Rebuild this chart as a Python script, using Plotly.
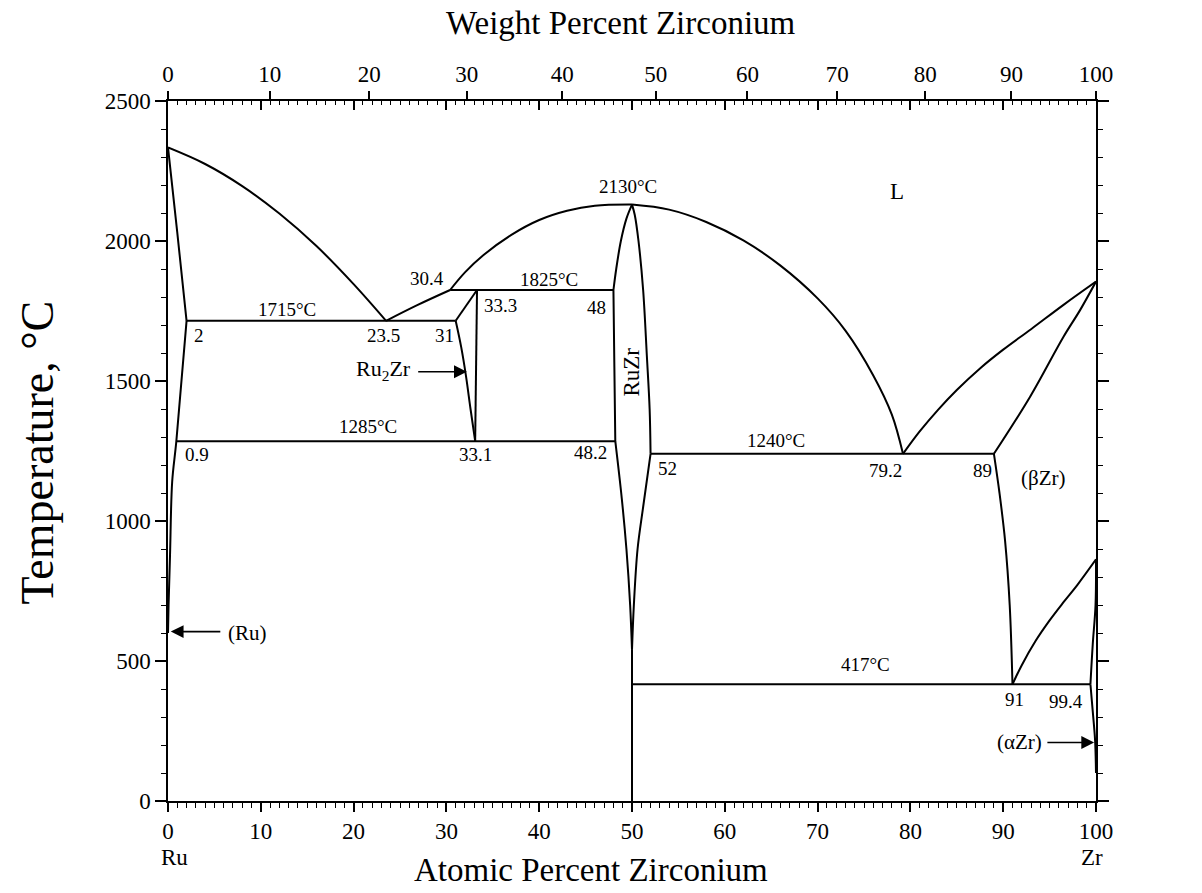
import plotly.graph_objects as go

# ---------------- phase boundaries (x = at.% Zr, y = temperature in degC) ----------------
ru_liquidus_x = [0, 4, 8, 12, 16, 20, 23.5]
ru_liquidus_t = [2334, 2275, 2196, 2098, 1982, 1846, 1715]

ru_solidus_x = [0, 1.0, 2.0]
ru_solidus_t = [2334, 2030, 1715]

ru_solvus_x = [2.0, 0.9, 0.45, 0.22, 0.06, 0]
ru_solvus_t = [1715, 1285, 1140, 880, 700, 600]

eut_liq_x = [23.5, 26.8, 30.4]
eut_liq_t = [1715, 1770, 1825]

ruzr_liq_left_x = [30.4, 32, 34, 37, 40, 43, 46, 50]
ruzr_liq_left_t = [1825, 1888, 1950, 2022, 2075, 2108, 2126, 2130]

ruzr_liq_right_x = [50, 54, 58, 62, 66, 70, 73, 76, 78, 79.2]
ruzr_liq_right_t = [2130, 2112, 2068, 2002, 1912, 1795, 1680, 1520, 1380, 1240]

ru2zr_peri_x = [31, 33.3]
ru2zr_peri_t = [1715, 1825]

ru2zr_right_x = [33.3, 33.1]
ru2zr_right_t = [1825, 1285]

ru2zr_left_x = [31, 31.6, 32.1, 32.6, 33.1]
ru2zr_left_t = [1715, 1620, 1520, 1400, 1285]

ruzr_left_hi_x = [50, 49.4, 48.8, 48.3, 48.0]
ruzr_left_hi_t = [2130, 2080, 2000, 1900, 1825]
ruzr_left_mid_x = [48.0, 48.1, 48.2]
ruzr_left_mid_t = [1825, 1550, 1285]
ruzr_left_lo_x = [48.2, 48.9, 49.4, 49.8, 50]
ruzr_left_lo_t = [1285, 1080, 900, 700, 540]

ruzr_right_hi_x = [50, 50.3, 50.7, 51.2, 51.6, 51.9, 52]
ruzr_right_hi_t = [2130, 2093, 2000, 1825, 1590, 1400, 1240]
ruzr_right_lo_x = [52, 51.2, 50.6, 50.2, 50]
ruzr_right_lo_t = [1240, 1050, 900, 700, 540]

ruzr_stem_x = [50, 50]
ruzr_stem_t = [540, 0]

zr_liquidus_x = [79.2, 81, 83, 85, 87.5, 90, 93, 96.5, 100]
zr_liquidus_t = [1240, 1320, 1398, 1468, 1545, 1612, 1685, 1772, 1855]

zr_solidus_x = [89, 92.9, 96.5, 98.3, 100]
zr_solidus_t = [1240, 1444, 1658, 1754, 1855]

bzr_solvus_x = [89, 89.6, 90.2, 90.7, 91]
bzr_solvus_t = [1240, 1100, 930, 700, 417]

bzr_transus_x = [91, 92, 93.5, 95, 96.5, 98, 100]
bzr_transus_t = [417, 485, 572, 645, 710, 772, 863]

azr_transus_x = [100, 99.95, 99.65, 99.4]
azr_transus_t = [863, 700, 560, 417]

azr_solvus_x = [99.4, 99.65, 99.9, 100]
azr_solvus_t = [417, 320, 218, 100]

# invariant (horizontal) reactions: (temperature, x_start, x_end)
iso_t = [1715, 1825, 1285, 1240, 417]
iso_x0 = [2.0, 30.4, 0.9, 52, 50]
iso_x1 = [31, 48, 48.2, 89, 99.4]

# axis ticks
temp_ticks = [0, 500, 1000, 1500, 2000, 2500]
at_ticks = [0, 10, 20, 30, 40, 50, 60, 70, 80, 90, 100]
wt_ticks = [0, 10, 20, 30, 40, 50, 60, 70, 80, 90, 100]

M_RU, M_ZR = 101.07, 91.224


def wt_to_at(w):
    if w >= 100:
        return 100.0
    nz = w / M_ZR
    nr = (100 - w) / M_RU
    return 100 * nz / (nz + nr)


FONT = "Liberation Serif"
LW = 2

curves = [
    (ru_liquidus_x, ru_liquidus_t, "spline"),
    (ru_solidus_x, ru_solidus_t, "spline"),
    (ru_solvus_x, ru_solvus_t, "spline"),
    (eut_liq_x, eut_liq_t, "spline"),
    (ruzr_liq_left_x, ruzr_liq_left_t, "spline"),
    (ruzr_liq_right_x, ruzr_liq_right_t, "spline"),
    (ru2zr_peri_x, ru2zr_peri_t, "linear"),
    (ru2zr_right_x, ru2zr_right_t, "linear"),
    (ru2zr_left_x, ru2zr_left_t, "spline"),
    (ruzr_left_hi_x, ruzr_left_hi_t, "spline"),
    (ruzr_left_mid_x, ruzr_left_mid_t, "spline"),
    (ruzr_left_lo_x, ruzr_left_lo_t, "spline"),
    (ruzr_right_hi_x, ruzr_right_hi_t, "spline"),
    (ruzr_right_lo_x, ruzr_right_lo_t, "spline"),
    (ruzr_stem_x, ruzr_stem_t, "linear"),
    (zr_liquidus_x, zr_liquidus_t, "spline"),
    (zr_solidus_x, zr_solidus_t, "spline"),
    (bzr_solvus_x, bzr_solvus_t, "spline"),
    (bzr_transus_x, bzr_transus_t, "spline"),
    (azr_transus_x, azr_transus_t, "spline"),
    (azr_solvus_x, azr_solvus_t, "spline"),
]

fig = go.Figure()
for xs, ts, shape in curves:
    fig.add_trace(go.Scatter(x=xs, y=ts, mode="lines",
                             line=dict(color="black", width=LW, shape=shape),
                             hoverinfo="skip", showlegend=False, cliponaxis=False))

for t, x0, x1 in zip(iso_t, iso_x0, iso_x1):
    fig.add_trace(go.Scatter(x=[x0, x1], y=[t, t], mode="lines",
                             line=dict(color="black", width=LW),
                             hoverinfo="skip", showlegend=False))

# placeholders so the two top axes get drawn
for ax in ("x2", "x3"):
    fig.add_trace(go.Scatter(x=[0], y=[0], xaxis=ax, mode="markers",
                             marker=dict(opacity=0), hoverinfo="skip", showlegend=False))

# ---------------- labels ----------------
LBL = 19
labels = [
    ("L", 78.6, 2178, 23, "center"),
    ("2130°C", 49.6, 2193, LBL, "center"),
    ("30.4", 27.9, 1866, LBL, "center"),
    ("1825°C", 41.1, 1862, LBL, "center"),
    ("33.3", 35.8, 1771, LBL, "center"),
    ("48", 46.2, 1764, LBL, "center"),
    ("1715°C", 12.8, 1757, LBL, "center"),
    ("2", 3.3, 1664, LBL, "center"),
    ("23.5", 23.2, 1664, LBL, "center"),
    ("31", 29.8, 1664, LBL, "center"),
    ("1285°C", 21.5, 1336, LBL, "center"),
    ("0.9", 3.1, 1239, LBL, "center"),
    ("33.1", 33.1, 1239, LBL, "center"),
    ("48.2", 45.5, 1243, LBL, "center"),
    ("52", 53.8, 1186, LBL, "center"),
    ("1240°C", 65.5, 1289, LBL, "center"),
    ("79.2", 77.3, 1182, LBL, "center"),
    ("89", 87.8, 1182, LBL, "center"),
    ("(βZr)", 94.3, 1154, 21, "center"),
    ("417°C", 75.2, 486, LBL, "center"),
    ("91", 91.2, 361, LBL, "center"),
    ("99.4", 96.8, 357, LBL, "center"),
    ("Ru<sub>2</sub>Zr", 26.4, 1540, 22, "right"),
    ("(αZr)", 94.4, 211, 21, "right"),
    ("(Ru)", 6.2, 599, 21, "left"),
    ("<b>2334°C</b>", -1.9, 2334, 22, "right"),
    ("<b>1855°C</b>", 101.9, 1850, 22, "left"),
    ("<b>863°C</b>", 101.8, 840, 19, "left"),
]
for text, x, y, size, anchor in labels:
    fig.add_annotation(x=x, y=y, text=text, showarrow=False, xanchor=anchor,
                       yanchor="middle", font=dict(family=FONT, size=size, color="black"))

fig.add_annotation(x=50, y=1530, text="RuZr", textangle=-90, showarrow=False,
                   xanchor="center", yanchor="middle",
                   font=dict(family=FONT, size=23, color="black"))

# arrows pointing at narrow single-phase fields: (tip x, tip y, tail x, tail y)
arrows = [(32.2, 1533, 26.8, 1533), (0.3, 605, 5.8, 605), (99.8, 209, 94.6, 209)]
for xt, yt, xs, ys in arrows:
    fig.add_annotation(x=xt, y=yt, ax=xs, ay=ys, axref="x", ayref="y", text="",
                       showarrow=True, arrowhead=2, arrowsize=1.6, arrowwidth=1.6,
                       arrowcolor="black")

# element names under the end ticks
for text, x in (("Ru", 0.75), ("Zr", 99.6)):
    fig.add_annotation(x=x, y=-0.08, yref="paper", text=text, showarrow=False,
                       xanchor="center", yanchor="middle",
                       font=dict(family=FONT, size=23, color="black"))

# axis titles
fig.add_annotation(x=45.6, y=-0.099, yref="paper", text="Atomic Percent Zirconium",
                   showarrow=False, xanchor="center", yanchor="middle",
                   font=dict(family=FONT, size=33, color="black"))
fig.add_annotation(x=48.8, y=1.112, yref="paper", text="Weight Percent Zirconium",
                   showarrow=False, xanchor="center", yanchor="middle",
                   font=dict(family=FONT, size=33, color="black"))
fig.add_annotation(x=-0.141, xref="paper", y=1245, text="Temperature, °C", textangle=-90,
                   showarrow=False, xanchor="center", yanchor="middle",
                   font=dict(family=FONT, size=46, color="black"))

tickfont = dict(family=FONT, size=23, color="black")

fig.update_layout(
    width=1202, height=893,
    margin=dict(l=168, r=106, t=101, b=92),
    paper_bgcolor="white", plot_bgcolor="white",
    xaxis=dict(range=[0, 100], tickmode="array", tickvals=at_ticks,
               ticktext=[str(v) for v in at_ticks], ticks="outside", ticklen=9,
               tickwidth=1.5, tickcolor="black", showline=True, linecolor="black",
               linewidth=1.5, mirror=True, showgrid=False, zeroline=False,
               tickfont=tickfont,
               minor=dict(ticks="outside", dtick=1, ticklen=5, tickwidth=1.2,
                          tickcolor="black", showgrid=False)),
    xaxis2=dict(overlaying="x", side="top", anchor="y", range=[0, 100],
                tickmode="array", tickvals=[wt_to_at(w) for w in wt_ticks],
                ticktext=[str(w) for w in wt_ticks], ticks="outside", ticklen=9,
                tickwidth=1.5, tickcolor="black", showline=False, showgrid=False,
                zeroline=False, tickfont=tickfont),
    xaxis3=dict(overlaying="x", side="top", anchor="y", range=[0, 100],
                tickmode="array", tickvals=at_ticks, ticks="inside", ticklen=9,
                tickwidth=1.5, tickcolor="black", showticklabels=False,
                showline=False, showgrid=False, zeroline=False,
                minor=dict(ticks="inside", dtick=1, ticklen=4, tickwidth=1.2,
                           tickcolor="black", showgrid=False)),
    yaxis=dict(range=[0, 2500], tickmode="array", tickvals=temp_ticks,
               ticks="outside", ticklen=11, tickwidth=1.5, tickcolor="black",
               showline=True, linecolor="black", linewidth=1.5, mirror="ticks",
               showgrid=False, zeroline=False, tickfont=tickfont,
               minor=dict(ticks="outside", dtick=100, ticklen=5, tickwidth=1.2,
                          tickcolor="black", showgrid=False)),
)

fig.write_html("out.html")
